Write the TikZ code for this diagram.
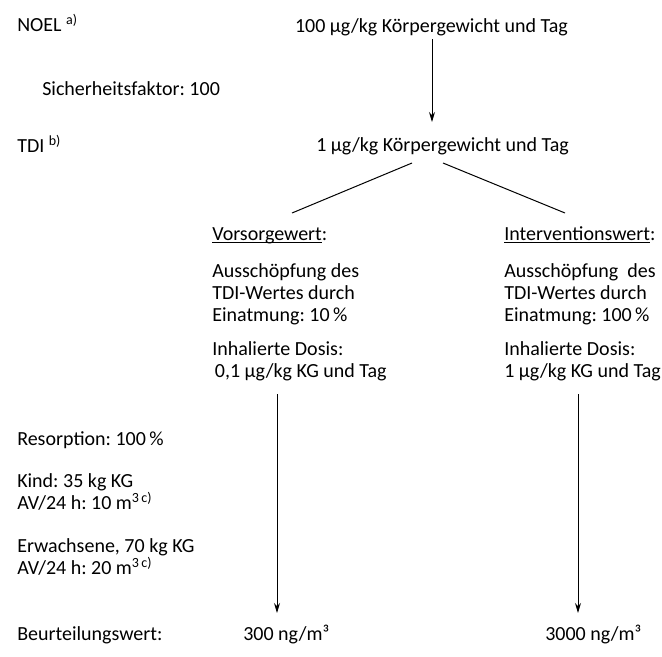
\documentclass[tikz,border=0pt]{standalone}
\usepackage{fontspec}
\setmainfont{Carlito}
\usetikzlibrary{arrows.meta}
\frenchspacing
\newcommand\myul[1]{\setbox0\hbox{#1}\rlap{\rule[-1.8pt]{\wd0}{0.6pt}}\box0}
\begin{document}
\begin{tikzpicture}[x=0.75pt,y=-0.75pt,
  txt/.style={inner sep=0pt,anchor=base west,align=left,font=\fontsize{15}{16.3}\selectfont\frenchspacing},
  txtr/.style={txt,anchor=base east},
  arr/.style={line width=0.75pt,-{Stealth[length=7.5pt,width=4.5pt]}},
  conn/.style={line width=0.75pt}]
\useasboundingbox (0,0) rectangle (662,657);
% left column (multi-line nodes are placed by their last baseline)
\node[txt] (noel) at (17,31) {NOEL \textsuperscript{a)}};
\node[txt] (sich) at (42,95) {Sicherheitsfaktor: 100};
\node[txt] (tdil) at (17,152) {TDI \textsuperscript{b)}};
\node[txt] (res) at (17,445) {Resorption: 100\,\%};
\node[txt] (kind) at (17,509) {Kind: 35 kg KG\\AV/24 h: 10 m\textsuperscript{3\,c)}};
\node[txt] (erw) at (17,574) {Erwachsene, 70 kg KG\\AV/24 h: 20 m\textsuperscript{3\,c)}};
\node[txt] (beur) at (17,640) {Beurteilungswert:};
% main chain
\node[txtr] (top) at (568,32) {100 µg/kg Körpergewicht und Tag};
\node[txtr] (tdi) at (569,151) {1 µg/kg Körpergewicht und Tag};
\node[txt] (vor) at (212,240) {\myul{Vorsorgewert}:};
\node[txt] (int) at (504,240) {\myul{Interventionswert}:};
\node[txt] (aus1) at (212,321) {Ausschöpfung des\\TDI-Wertes durch\\Einatmung: 10\,\%};
\node[txt] (aus2) at (504,321) {Ausschöpfung\ \ des\\TDI-Wertes durch\\Einatmung: 100\,\%};
\node[txt] (inh1) at (212,377) {Inhalierte Dosis:\\\hspace*{2pt}0,1 µg/kg KG und Tag};
\node[txt] (inh2) at (504,377) {Inhalierte Dosis:\\1 µg/kg KG und Tag};
\node[txt] (b300) at (243,640) {300 ng/m³};
\node[txt] (b3000) at (545,640) {3000 ng/m³};
% connector ends
\coordinate (a1) at (432,39);
\coordinate (a2) at (432,122);
\coordinate (tdiL) at (412,163);
\coordinate (tdiR) at (443,163);
\coordinate (vorT) at (292,213);
\coordinate (intT) at (565,213);
\coordinate (l1) at (277,394);
\coordinate (l2) at (277,613);
\coordinate (r1) at (578,394);
\coordinate (r2) at (578,613);
\draw[arr] (a1) -- (a2);
\draw[conn] (tdiL) -- (vorT);
\draw[conn] (tdiR) -- (intT);
\draw[arr] (l1) -- (l2);
\draw[arr] (r1) -- (r2);
\end{tikzpicture}
\end{document}
